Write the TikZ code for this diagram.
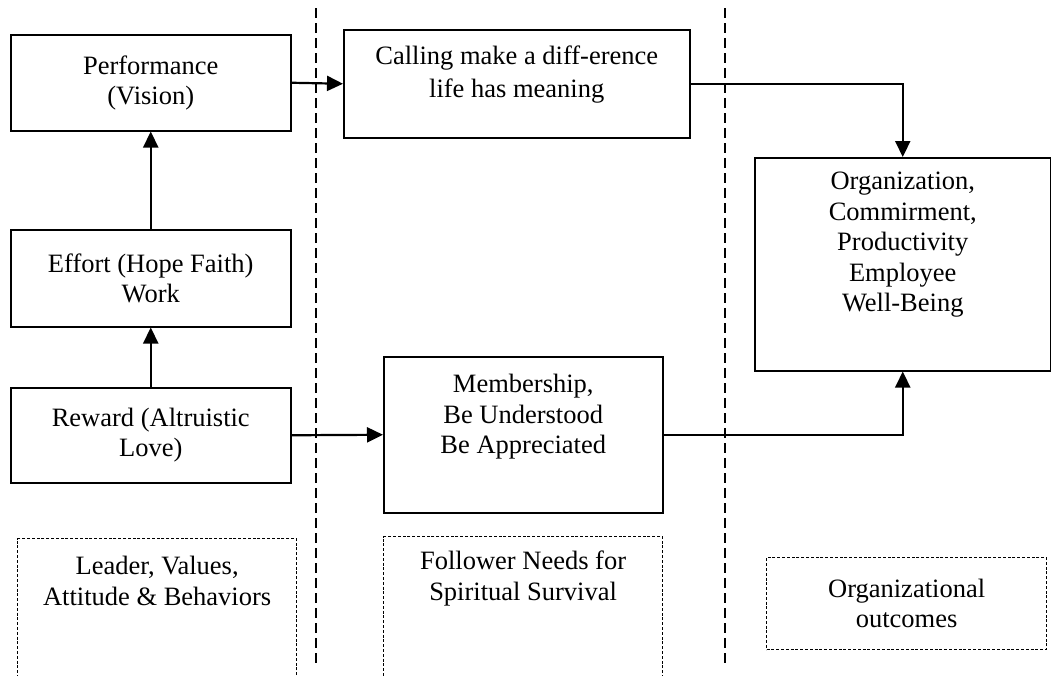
\documentclass[tikz,border=0pt]{standalone}
\usepackage{fontspec}
\setmainfont{Liberation Serif}
\usetikzlibrary{arrows.meta}
\newcommand\bxt[4]{\parbox[c][#2][t]{#1}{\centering\vspace*{#3}#4\par}}
\begin{document}
\begin{tikzpicture}[x=1pt,y=-1pt,
  font=\fontsize{26.5}{30.5}\selectfont,
  solidbox/.style={draw, line width=1.5pt, inner sep=0pt, anchor=north west},
  dashbox/.style={draw, line width=1.2pt, dash pattern=on 3pt off 1.8pt, inner sep=0pt, anchor=north west},
  conn/.style={line width=2.2pt, -{Triangle[length=16pt,width=15pt]}},
  divider/.style={line width=1.8pt, dash pattern=on 10pt off 5pt}]
\useasboundingbox (0,0) rectangle (1051,675);
\clip (0,0) rectangle (1051,675);
\fill[white] (0,0) rectangle (1051,675);
% left column
\node[solidbox, minimum width=280pt, minimum height=96pt, align=center] (perf) at (10,34) {Performance\\(Vision)};
\node[solidbox, minimum width=280pt, minimum height=97pt, align=center] (effort) at (10,229) {Effort (Hope Faith)\\Work};
\node[solidbox, minimum width=280pt, minimum height=95pt, align=center] (reward) at (10,387) {Reward (Altruistic\\Love)};
% middle column
\node[solidbox] (call) at (343,29) {\bxt{346pt}{108pt}{15.6pt}{Calling make a diff-erence\\[2.5pt]life has meaning}};
\node[solidbox] (memb) at (383,356) {\bxt{279pt}{156pt}{17.6pt}{Membership,\\Be Understood\\Be Appreciated}};
% right column
\node[solidbox] (org) at (754,157) {\bxt{296pt}{213pt}{14.6pt}{Organization,\\Commirment,\\Productivity\\Employee\\Well-Being}};
% dashed category boxes
\node[dashbox] (lead) at (17,538) {\bxt{279pt}{160pt}{17.6pt}{Leader, Values,\\Attitude \& Behaviors}};
\node[dashbox] (foll) at (383,536) {\bxt{279pt}{160pt}{14.6pt}{Follower Needs for\\Spiritual Survival}};
\node[dashbox, minimum width=280pt, minimum height=92pt, align=center] (outc) at (766,557) {Organizational\\outcomes};
% dividers
\coordinate (d1t) at (316,8); \coordinate (d1b) at (316,665);
\coordinate (d2t) at (725,8); \coordinate (d2b) at (725,665);
\draw[divider] (d1t) -- (d1b);
\draw[divider] (d2t) -- (d2b);
% connectors
\draw[conn] (reward.north) -- (effort.south);
\draw[conn] (effort.north) -- (perf.south);
\draw[conn] (perf.east) -- (call.west);
\draw[conn] (reward.east) -- (memb.west);
\draw[conn] (call.east) -| (org.north);
\draw[conn] (memb.east) -| (org.south);
\end{tikzpicture}
\end{document}
